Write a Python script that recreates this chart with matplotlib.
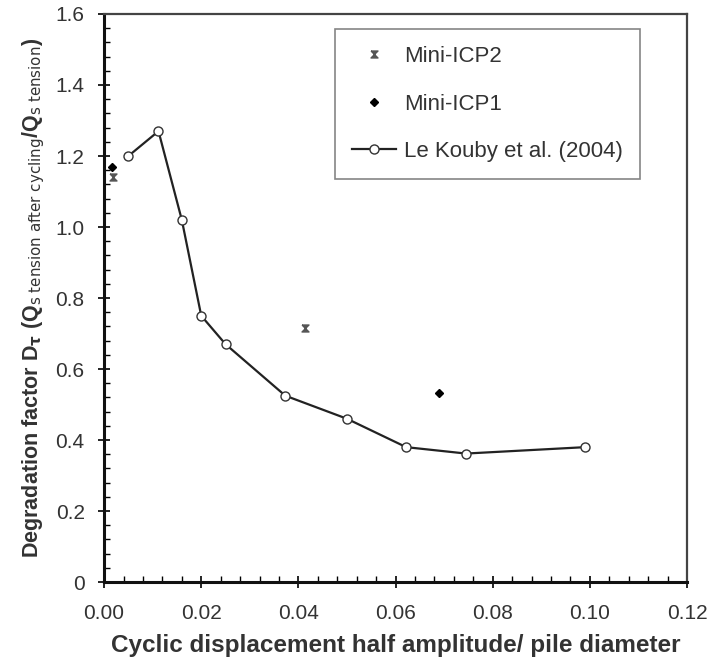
import numpy as np
import matplotlib.pyplot as plt
from matplotlib.ticker import MultipleLocator, FixedLocator

# Le Kouby et al. (2004) curve
x_kouby = [0.005, 0.0112, 0.016, 0.020, 0.025, 0.0373, 0.050, 0.0622, 0.0745, 0.099]
y_kouby = [1.20, 1.27, 1.02, 0.75, 0.67, 0.525, 0.46, 0.38, 0.362, 0.38]

# Mini-ICP tests
x_icp2 = [0.0018, 0.0414]
y_icp2 = [1.14, 0.715]
x_icp1 = [0.0017, 0.069]
y_icp1 = [1.17, 0.532]

xticks = [0.00, 0.02, 0.04, 0.06, 0.08, 0.10, 0.12]
xticklabels = ['0.00', '0.02', '0.04', '0.06', '0.08', '0.10', '0.12']
yticks = [0, 0.2, 0.4, 0.6, 0.8, 1.0, 1.2, 1.4, 1.6]
yticklabels = ['0', '0.2', '0.4', '0.6', '0.8', '1.0', '1.2', '1.4', '1.6']

plt.rcParams['font.family'] = ['Liberation Sans', 'DejaVu Sans']
txt = '#333333'

fig = plt.figure(figsize=(7.13, 6.66), dpi=100)
ax = fig.add_axes([0.146, 0.126, 0.8175, 0.853])

hourglass = [(-1, 1), (1, 1), (-1, -1), (1, -1), (-1, 1)]

ax.plot(x_icp2, y_icp2, linestyle='none', marker=hourglass, markersize=5,
        color='#555555', label='Mini-ICP2')
ax.plot(x_icp1, y_icp1, linestyle='none', marker='D', markersize=4.5,
        color='black', label='Mini-ICP1')
ax.plot(x_kouby, y_kouby, '-', color='#222222', lw=1.6, marker='o',
        markersize=6.5, markerfacecolor='white', markeredgecolor='#333333',
        markeredgewidth=1.0, label='Le Kouby et al. (2004)')

ax.set_xlim(0, 0.12)
ax.set_ylim(0, 1.6)
ax.xaxis.set_major_locator(FixedLocator(xticks))
ax.set_xticklabels(xticklabels)
ax.yaxis.set_major_locator(FixedLocator(yticks))
ax.set_yticklabels(yticklabels)
ax.xaxis.set_minor_locator(MultipleLocator(0.004))
ax.yaxis.set_minor_locator(MultipleLocator(0.04))

ax.tick_params(which='major', direction='inout', length=8, width=1.2,
               labelsize=15, labelcolor=txt)
ax.tick_params(which='minor', direction='in', length=4, width=1.0)
ax.tick_params(axis='x', which='major', pad=12)
ax.tick_params(axis='y', which='major', pad=10)

for side in ['left', 'bottom']:
    ax.spines[side].set_linewidth(2.2)
    ax.spines[side].set_color('#111111')
for side in ['top', 'right']:
    ax.spines[side].set_linewidth(1.6)
    ax.spines[side].set_color('#444444')

ax.set_xlabel('Cyclic displacement half amplitude/ pile diameter',
              fontsize=17.5, fontweight='bold', color=txt, labelpad=8)
ax.set_ylabel(r'Degradation factor D$_\mathbf{\tau}$ '
              r'(Q$_{\mathrm{s\ tension\ after\ cycling}}$/Q$_{\mathrm{s\ tension}}$)',
              fontsize=15.5, fontweight='bold', color=txt, labelpad=6)

leg = ax.legend(loc='upper right', bbox_to_anchor=(0.93, 0.985), fontsize=16,
                labelspacing=1.2, borderpad=0.75, handlelength=2.0,
                handletextpad=0.35, fancybox=False, edgecolor='#666666',
                borderaxespad=0.3)
leg.get_frame().set_linewidth(1.2)
for t in leg.get_texts():
    t.set_color(txt)

fig.savefig('out.png', dpi=100)
